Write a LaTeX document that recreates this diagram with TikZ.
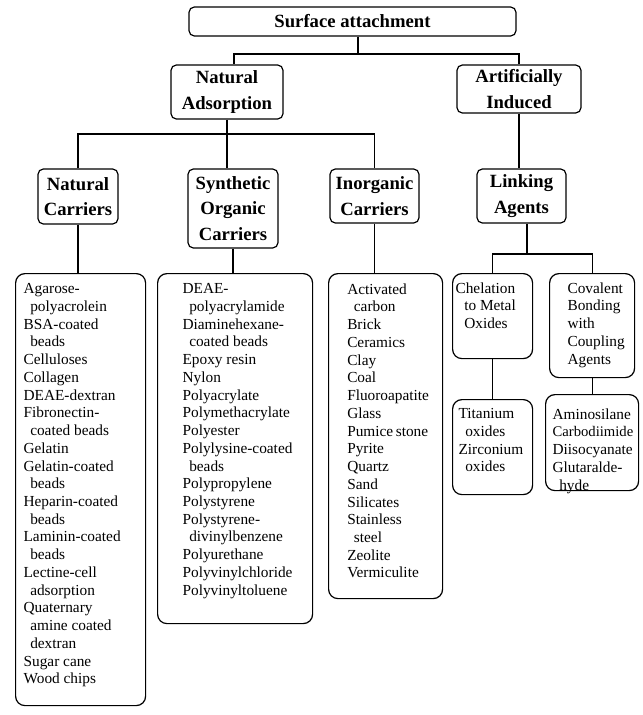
\documentclass[tikz,border=0pt]{standalone}
\usepackage{fontspec}
\setmainfont{Liberation Serif}
\hfuzz=40pt
\vfuzz=40pt
\newcommand{\listcell}[3]{\parbox[t][#2][t]{#1}{\raggedright\hyphenpenalty=10000 \exhyphenpenalty=10000 #3}}
\newcommand{\ind}{\hspace*{5pt}}

\begin{document}
\begin{tikzpicture}[x=0.75pt, y=-0.75pt, line width=0.9pt,
	head/.style={draw, rounded corners=4pt, align=center, inner sep=0pt, font=\bfseries\fontsize{14}{19}\selectfont},
	itembox/.style={draw, rounded corners=7pt, anchor=north west, font=\fontsize{11.5}{13.3}\selectfont}]
			\useasboundingbox (0,0) rectangle (643,715);

			% level 1 and 2
			\node (top)[head, minimum width=245.25pt, minimum height=21.75pt] at (352.5,21.5) {Surface attachment};
			\node (natads)[head, minimum width=84pt, minimum height=40.5pt] at (227,92) {Natural\\Adsorption};
			\node (artind)[head, minimum width=93pt, minimum height=36pt] at (519,89) {Artificially\\Induced};

			% level 3
			\node (natcar)[head, minimum width=60pt, minimum height=41.25pt] at (78,196.5) {Natural\\Carriers};
			\node (syncar)[head, minimum width=67.5pt, minimum height=59.25pt] at (233,208.5) {Synthetic\\Organic\\Carriers};
			\node (inocar)[head, minimum width=66.75pt, minimum height=40.5pt] at (374.5,196) {Inorganic\\Carriers};
			\node (linkag)[head, minimum width=66.75pt, minimum height=40.5pt] at (521.5,196) {Linking\\Agents};

			% lists
			\node (natlist)[itembox, inner xsep=6pt, inner ysep=7.5pt] at (15,273) {\listcell{85.5pt}{309pt}{Agarose-\\
				\ind polyacrolein\\ BSA-coated\\ \ind beads\\ Celluloses\\ Collagen\\ DEAE-dextran\\ Fibronectin-\\
				\ind coated~beads\\ Gelatin\\ Gelatin-coated\\ \ind beads\\ Heparin-coated\\ \ind beads\\
				Laminin-coated\\ \ind beads\\ Lectine-cell\\ \ind adsorption\\ Quaternary\\ \ind amine~coated\\
				\ind dextran\\ Sugar~cane\\ Wood~chips}};
			\node (synlist)[itembox, inner xsep=18.75pt, inner ysep=7.5pt] at (157,273) {\listcell{78.75pt}{247.5pt}{DEAE-\\
				\ind polyacrylamide\\ Diaminehexane-\\ \ind coated~beads\\ Epoxy~resin\\ Nylon\\ Polyacrylate\\
				Polymethacrylate\\ Polyester\\ Polylysine-coated\\ \ind beads\\ Polypropylene\\ Polystyrene\\
				Polystyrene-\\ \ind divinylbenzene\\ Polyurethane\\ Polyvinylchloride\\ Polyvinyltoluene}};
			\node (inolist)[itembox, inner xsep=14pt, inner ysep=7.5pt] at (328,273) {\listcell{57.5pt}{228.75pt}{Activated\\
				\ind carbon\\ Brick\\ Ceramics\\ Clay\\ Coal\\ Fluoroapatite\\ Glass\\ Pumice~stone\\ Pyrite\\
				Quartz\\ Sand\\ Silicates\\ Stainless\\ \ind steel\\ Zeolite\\ Vermiculite}};
			\node (chel)[itembox, inner xsep=2.25pt, inner ysep=6.75pt] at (452,273) {\listcell{55.5pt}{50.25pt}{Chelation\\
				\hspace*{6.5pt}to~Metal\\ \hspace*{6.5pt}Oxides}};
			\node (coval)[itembox, inner xsep=13.5pt, inner ysep=6.75pt] at (549,273) {\listcell{36.75pt}{64.5pt}{Covalent\\
				Bonding\\ with\\ Coupling\\ Agents}};
			\node (tilist)[itembox, inner xsep=4.5pt, inner ysep=6.75pt] at (452,399) {\listcell{51pt}{57.75pt}{Titanium\\
				\ind oxides\\ Zirconium\\ \ind oxides}};
			\node (aminlist)[itembox, inner xsep=5.25pt, inner ysep=10.5pt] at (545,394) {\listcell{59.25pt}{51pt}{Aminosilane\\
				{\fontsize{11}{13.3}\selectfont Carbodiimide}\\ Diisocyanate\\ Glutaralde-\\ \ind hyde}};

			% connectors
			\coordinate (j1) at (358,54);
			\coordinate (j2) at (227,134);
			\coordinate (j3) at (527,254);
			\draw (top.south -| j1)--(j1);
			\draw ([xshift=5.25pt]natads.north) |- (j1) -| (artind.north);
			\draw (natads.south)--(syncar.north -| natads.south);
			\draw (natcar.north) |- (j2) -| (inocar.north);
			\draw (artind.south)--(linkag.north -| artind.south);
			\draw (natcar.south)--(natlist.north -| natcar.south);
			\draw (syncar.south)--(synlist.north -| syncar.south);
			\draw (inocar.south)--(inolist.north -| inocar.south);
			\draw (linkag.south -| j3)--(j3);
			\draw (chel.north) |- (j3) -| (coval.north);
			\draw (chel.south)--(tilist.north);
			\draw (coval.south)--(aminlist.north -| coval.south);
		\end{tikzpicture}
\end{document}
